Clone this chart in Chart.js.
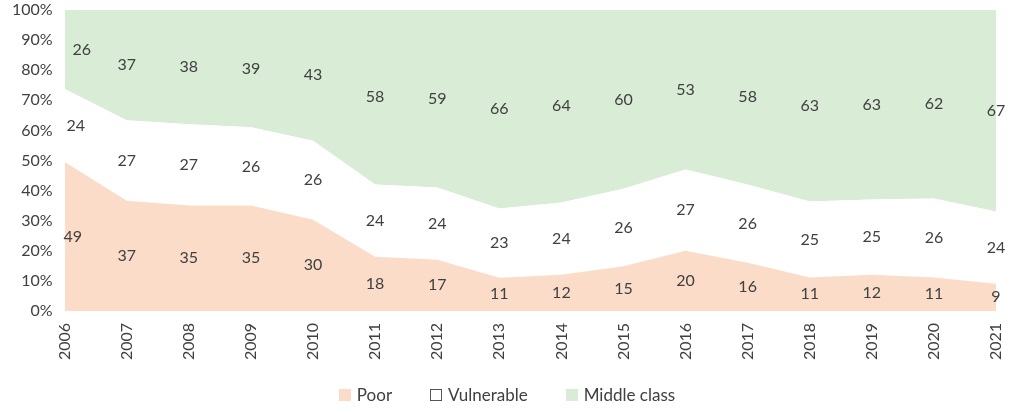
<!DOCTYPE html>
<html lang="en">
<head>
  <meta charset="UTF-8" />
  <title>Poor, vulnerable and middle class</title>
  <script src="https://cdn.jsdelivr.net/npm/chart.js"></script>
  <style>
    html, body { margin: 0; padding: 0; background: #fff; }
    #wrap { position: relative; width: 1014px; height: 414px; }
    #legend {
      position: absolute; left: 0; right: 0; top: 384px;
      display: flex; justify-content: center; gap: 38px;
      font: 17px Lato, sans-serif; color: #404040;
    }
    #legend span.item { display: flex; align-items: center; }
    #legend span.box { width: 12px; height: 12px; margin-right: 6px; box-sizing: border-box; }
  </style>
</head>
<body>
  <div id="wrap">
    <canvas id="chart" width="1014" height="414"></canvas>
    <div id="legend"></div>
  </div>

  <script>
    const years = ['2006', '2007', '2008', '2009', '2010', '2011', '2012', '2013',
                   '2014', '2015', '2016', '2017', '2018', '2019', '2020', '2021'];
    const poor       = [49, 37, 35, 35, 30, 18, 17, 11, 12, 15, 20, 16, 11, 12, 11, 9];
    const vulnerable = [24, 27, 27, 26, 26, 24, 24, 23, 24, 26, 27, 26, 25, 25, 26, 24];
    const middle     = [26, 37, 38, 39, 43, 58, 59, 66, 64, 60, 53, 58, 63, 63, 62, 67];
    const seriesNames = ['Poor', 'Vulnerable', 'Middle class'];
    const yTicks = [0, 10, 20, 30, 40, 50, 60, 70, 80, 90, 100];

    const raw = [poor, vulnerable, middle];
    // shares of 100 so the stack always reaches the top
    const totals = years.map((_, i) => poor[i] + vulnerable[i] + middle[i]);
    const share = arr => arr.map((v, i) => v / totals[i] * 100);

    const fills = ['#fbdcc8', '#ffffff', '#d9ecd6'];
    const textColor = '#404040';
    Chart.defaults.font.family = 'Lato, "Open Sans", sans-serif';
    Chart.defaults.font.size = 16;
    Chart.defaults.color = textColor;

    // value labels in the middle of each band
    const bandLabels = {
      id: 'bandLabels',
      afterDatasetsDraw(chart) {
        const ctx = chart.ctx;
        const bottom = chart.scales.y.getPixelForValue(0);
        const firstShift = [8, 11, 17];
        ctx.save();
        ctx.font = '16px Lato, sans-serif';
        ctx.fillStyle = textColor;
        ctx.textAlign = 'center';
        ctx.textBaseline = 'middle';
        chart.data.datasets.forEach((ds, d) => {
          const meta = chart.getDatasetMeta(d);
          meta.data.forEach((pt, i) => {
            const base = d === 0 ? bottom : chart.getDatasetMeta(d - 1).data[i].y;
            const x = pt.x + (i === 0 ? firstShift[d] : 0);
            ctx.fillText(String(raw[d][i]), x, (pt.y + base) / 2);
          });
        });
        ctx.restore();
      }
    };

    new Chart(document.getElementById('chart'), {
      type: 'line',
      data: {
        labels: years,
        datasets: seriesNames.map((name, d) => ({
          label: name,
          data: share(raw[d]),
          backgroundColor: fills[d],
          fill: d === 0 ? 'origin' : '-1'
        }))
      },
      options: {
        responsive: false,
        animation: false,
        layout: { padding: { top: 10, right: 18, left: 0, bottom: 42 } },
        elements: {
          line: { tension: 0, borderWidth: 0, borderColor: 'rgba(0,0,0,0)' },
          point: { radius: 0, hoverRadius: 0 }
        },
        scales: {
          x: {
            offset: false,
            grid: { display: false, drawTicks: false },
            border: { display: false },
            ticks: { minRotation: 90, maxRotation: 90, padding: 12, color: textColor },
            afterFit: s => { s.paddingLeft = 0; s.paddingRight = 0; }
          },
          y: {
            stacked: true,
            min: 0,
            max: 100,
            afterBuildTicks: axis => { axis.ticks = yTicks.map(v => ({ value: v })); },
            grid: { display: false, drawTicks: false },
            border: { display: false },
            ticks: { padding: 12, color: textColor, callback: v => v + '%' },
            afterFit: s => { s.paddingTop = 0; s.paddingBottom = 0; }
          }
        },
        plugins: {
          tooltip: { enabled: false },
          legend: { display: false }
        }
      },
      plugins: [bandLabels]
    });

    const legend = document.getElementById('legend');
    legend.innerHTML = seriesNames.map((name, d) =>
      `<span class="item"><span class="box" style="background:${fills[d]};` +
      (d === 1 ? 'border:1px solid #555;' : '') + `"></span>${name}</span>`
    ).join('');
  </script>
</body>
</html>
